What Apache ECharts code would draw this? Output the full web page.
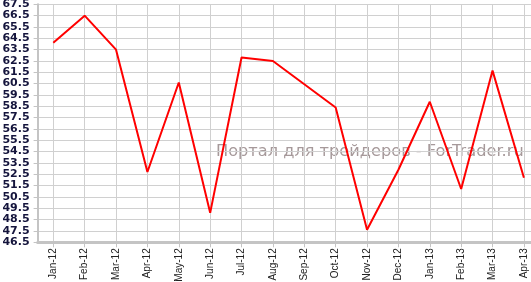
<!DOCTYPE html>
<html>
<head>
<meta charset="utf-8">
<script src="https://cdn.jsdelivr.net/npm/echarts@6/dist/echarts.min.js"></script>
<style>
html,body{margin:0;padding:0;background:#fff;}
#chart{width:531px;height:282px;}
</style>
</head>
<body>
<div id="chart"></div>
<script>
const categories = ['Jan-12','Feb-12','Mar-12','Apr-12','May-12','Jun-12','Jul-12','Aug-12','Sep-12','Oct-12','Nov-12','Dec-12','Jan-13','Feb-13','Mar-13','Apr-13'];
const values = [64.1, 66.5, 63.5, 52.7, 60.6, 49.1, 62.8, 62.5, 60.45, 58.4, 47.6, 52.9, 58.9, 51.2, 61.65, 52.2];
const yMin = 46.5;
const yMax = 67.5;
const yStep = 1;
const watermark = 'Портал для трейдеров - ForTrader.ru';

const labelStyle = {
  margin: 8,
  hideOverlap: false,
  fontFamily: '"DejaVu Sans", Verdana, sans-serif',
  fontSize: 11,
  fontWeight: 'bold',
  color: '#14143c',
  formatter: function (v) { return v.toFixed(1); }
};

const chart = echarts.init(document.getElementById('chart'), null, {renderer:'canvas'});
chart.setOption({
  animation: false,
  backgroundColor: '#ffffff',
  grid: {left: 37.6, top: 4.3, width: 502, height: 238, containLabel: false, outerBoundsMode: 'none'},
  graphic: [{
    type: 'text',
    left: 216,
    top: 143.5,
    z: 0,
    style: {
      text: watermark,
      font: '16.2px "DejaVu Sans"',
      fill: '#a6999a'
    }
  }],
  xAxis: {
    type: 'category',
    data: categories,
    boundaryGap: true,
    axisLine: {show: true, lineStyle: {color: '#c4c4c4', width: 3}},
    axisTick: {show: true, alignWithLabel: true, length: 5, lineStyle: {color: '#c4c4c4', width: 1}},
    splitLine: {show: true, alignWithLabel: true, lineStyle: {color: '#d0d0d0', width: 1}},
    axisLabel: {
      rotate: 90,
      margin: 6,
      interval: 0,
      fontFamily: '"Liberation Sans", Arial, sans-serif',
      fontSize: 10,
      color: '#222222'
    }
  },
  yAxis: [{
    type: 'value',
    position: 'left',
    min: yMin,
    max: yMax,
    interval: yStep,
    axisLine: {show: true, lineStyle: {color: '#c4c4c4', width: 2}},
    axisTick: {show: true, length: 4, lineStyle: {color: '#c4c4c4', width: 1}},
    splitLine: {show: true, lineStyle: {color: '#d0d0d0', width: 1}},
    axisLabel: Object.assign({showMinLabel: false, showMaxLabel: false}, labelStyle)
  }, {
    type: 'value',
    position: 'left',
    offset: 0,
    min: yMin,
    max: yMax,
    interval: yMax - yMin,
    axisLine: {show: false},
    axisTick: {show: true, length: 4, lineStyle: {color: '#c4c4c4', width: 1}},
    splitLine: {show: false},
    axisLabel: Object.assign({showMinLabel: true, showMaxLabel: true}, labelStyle)
  }],
  series: [{
    type: 'line',
    data: values,
    yAxisIndex: 0,
    showSymbol: false,
    symbol: 'none',
    z: 3,
    lineStyle: {color: '#ff0000', width: 2}
  }]
});
</script>
</body>
</html>
